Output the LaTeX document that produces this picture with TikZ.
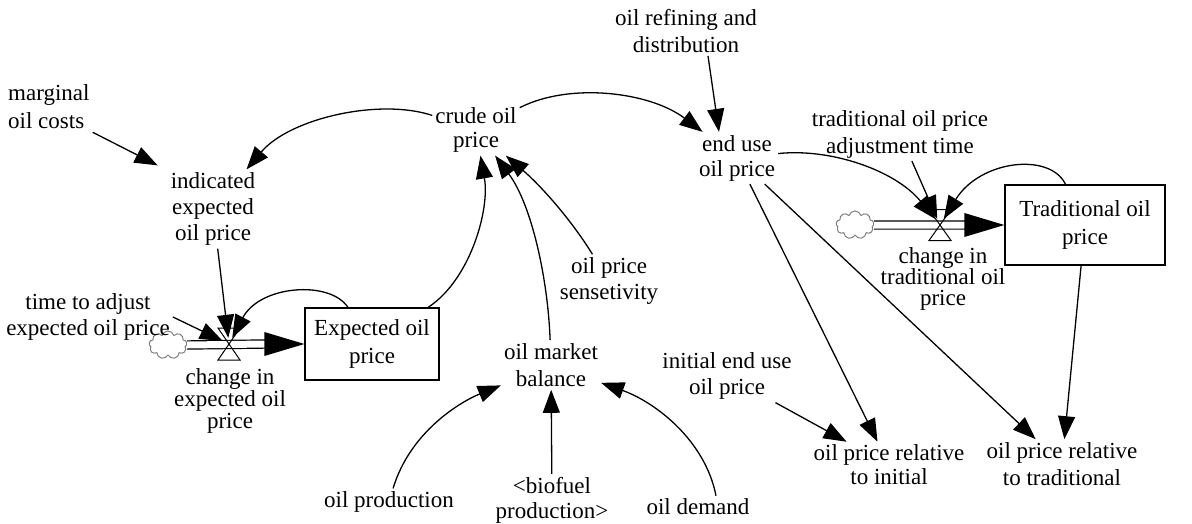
\documentclass[tikz,border=0pt]{standalone}
\usepackage{fontspec}
\setmainfont{Liberation Serif}
\usetikzlibrary{arrows.meta,shapes.symbols}
\tikzset{
  lbl/.style={align=center, inner sep=3pt, font=\fontsize{23}{#1}\selectfont},
  lbl/.default=25,
  stock/.style={draw, line width=1.3pt, inner sep=0pt, align=center, font=\fontsize{23}{28}\selectfont},
  inf/.style={line width=1.3pt, -{Triangle[length=23pt,width=17pt]}},
  pipe/.style={line width=1.2pt, double, double distance=7pt},
  valvept/.style={inner sep=0pt, minimum size=12pt},
  valveshape/.style={line width=1pt},
  cloudsrc/.style={cloud, cloud puffs=9, draw=gray, line width=1pt, minimum width=38pt, minimum height=28pt, inner sep=0pt, aspect=1.4},
}
\begin{document}
\begin{tikzpicture}[x=1pt,y=-1pt]
\useasboundingbox (0,0) rectangle (1192,524);

% stocks
\node[stock, minimum width=134pt, minimum height=72pt] (ebox) at (372,344) {Expected oil\\price};
\node[stock, minimum width=160pt, minimum height=80pt] (tbox) at (1085,225) {Traditional oil\\price};

% valves and clouds
\node[valvept] (v1) at (229,344) {};
\node[valvept] (v2) at (940,225) {};
\node[cloudsrc] (cL) at (168,345) {};
\node[cloudsrc] (cR) at (855,225) {};

% labels
\node[lbl=27] (ref) at (686,31) {oil refining and\\distribution};
\node[lbl=28, align=left, anchor=west] (marg) at (5,107) {marginal\\oil costs};
\node[lbl=24] (crude) at (476,130) {crude oil\\price};
\node[lbl=25] (enduse) at (737,158) {end use\\oil price};
\node[lbl=27] (tadj) at (900,134) {traditional oil price\\adjustment time};
\node[lbl=26] (ind) at (213,209) {indicated\\expected\\oil price};
\node[lbl=26] (sens) at (609,281) {oil price\\sensetivity};
\node[lbl=26] (tte) at (88,317) {time to adjust\\expected oil price};
\node[lbl=27] (omb) at (551,365) {oil market\\balance};
\node[lbl=26] (init) at (727,376) {initial end use\\oil price};
\node[lbl=24] (rel1) at (889,465) {oil price relative\\to initial};
\node[lbl=27] (rel2) at (1062,464) {oil price relative\\to traditional};
\node[lbl] (prod) at (389,502) {oil production};
\node[lbl=25] (bio) at (552,500) {<biofuel\\production>};
\node[lbl] (dem) at (698,507) {oil demand};
\node[lbl=22] (chg1) at (230,401) {change in\\expected oil\\price};
\node[lbl=21] (chg2) at (943,279) {change in\\traditional oil\\price};

% pipes
\draw[pipe] (cL.east) -- ([xshift=-38pt]ebox.west |- v1);
\fill (ebox.west |- v1) -- ++(-40,-12) -- ++(0,24) -- cycle;
\draw[pipe] (cR.east) -- ([xshift=-38pt]tbox.west |- v2);
\fill (tbox.west |- v2) -- ++(-40,-12) -- ++(0,24) -- cycle;
\draw[valveshape] (v1.center) -- ++(-11,-16) -- ++(22,0) -- cycle
                  (v1.center) -- ++(-11,16) -- ++(22,0) -- cycle;
\draw[valveshape] (v2.center) -- ++(-11,-15.5) -- ++(22,0) -- cycle
                  (v2.center) -- ++(-11,15.5) -- ++(22,0) -- cycle;

% influences
\draw[inf] (marg.south east) -- ([xshift=-10pt,yshift=4pt]ind.north west);
\draw[inf] (crude) .. controls (380,98) and (290,118) .. (ind);
\draw[inf] (ind) -- (v1);
\draw[inf] (tte.east) -- (v1);
\draw[inf] (ebox) .. controls (330,280) and (260,285) .. (v1);
\draw[inf] (ebox) .. controls (470,280) and (490,210) .. (crude);
\draw[inf] (omb) .. controls (548,280) and (532,205) .. (crude);
\draw[inf] (sens) .. controls (570,218) and (540,185) .. (crude);
\draw[inf] (crude) .. controls (570,82) and (650,92) .. (enduse);
\draw[inf] ([xshift=22pt]ref.south) -- ([xshift=-18pt]enduse.north);
\draw[inf] (enduse) .. controls (830,148) and (895,170) .. (v2);
\draw[inf] (tadj) -- (v2);
\draw[inf] (tbox) .. controls (1050,152) and (980,160) .. (v2);
\draw[inf] (enduse) -- (rel1);
\draw[inf] (enduse) -- (rel2);
\draw[inf] (init) -- (rel1);
\draw[inf] (tbox) -- (rel2);
\draw[inf] (prod) .. controls (410,432) and (460,402) .. (omb);
\draw[inf] (bio) -- (omb);
\draw[inf] ([xshift=18pt]dem.north) .. controls (705,440) and (655,402) .. (omb);
\end{tikzpicture}
\end{document}
